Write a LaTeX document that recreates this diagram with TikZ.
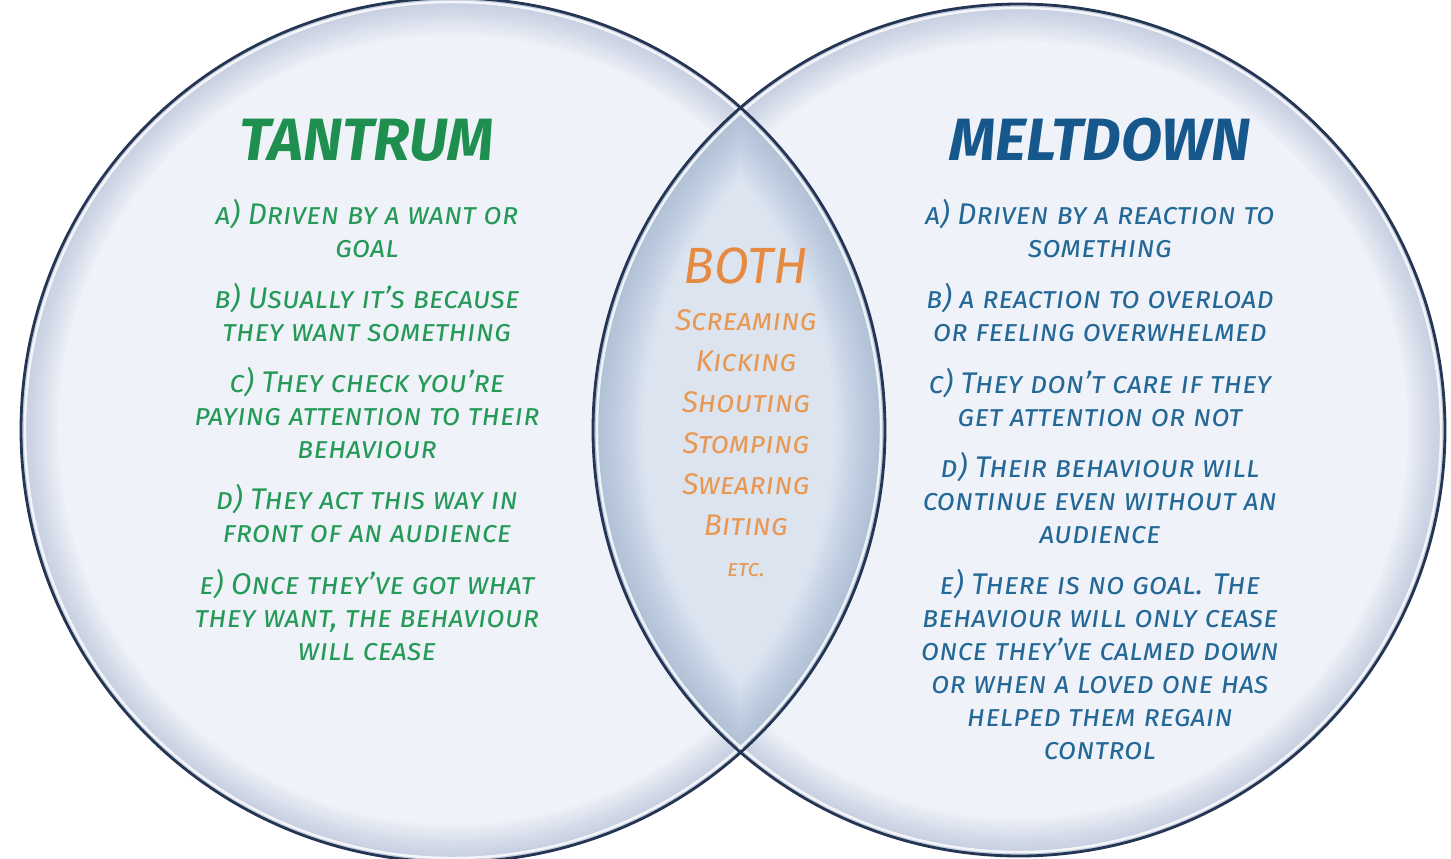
\documentclass[tikz,border=0pt]{standalone}
\usepackage{fontspec}
\setmainfont{Fira Sans}
\usetikzlibrary{positioning}

\definecolor{tgreen}{HTML}{1F8F50}
\definecolor{tgreenlt}{HTML}{259A58}
\definecolor{mblue}{HTML}{17588C}
\definecolor{mbluelt}{HTML}{236896}
\definecolor{borange}{HTML}{E58A40}
\definecolor{borangelt}{HTML}{E89852}
\definecolor{bubble}{HTML}{EFF2F8}
\definecolor{lensfill}{HTML}{DCE4F0}
\definecolor{rim}{HTML}{7F98BE}
\definecolor{ring}{HTML}{243654}

\tikzset{
  heading/.style={inner sep=0pt, font=\fontsize{34}{34}\selectfont\bfseries\itshape},
  point/.style={inner sep=0pt, align=center,
    font=\fontsize{17}{18.8}\selectfont\itshape\scshape},
  both/.style={inner sep=0pt, align=center, text=borangelt,
    font=\fontsize{17}{23.3}\selectfont\itshape\scshape},
}

\begin{document}
\begin{tikzpicture}[x=0.02cm, y=-0.02cm, node distance=0.5cm]
\useasboundingbox[fill=white] (0,0) rectangle (1451,859);

\coordinate (L) at (453,430);
\coordinate (R) at (1019,430);

% the two bubbles, soft rim inside each
\fill[bubble] (L) circle (432) (R) circle (426);
\begin{scope}
  \clip (L) circle (432);
  \foreach \i in {1,...,12}
    \draw[rim, line width=3.5*\i pt, opacity=.035] (L) circle (432);
\end{scope}
\begin{scope}
  \clip (R) circle (426);
  \foreach \i in {1,...,12}
    \draw[rim, line width=3.5*\i pt, opacity=.035] (R) circle (426);
\end{scope}

% overlap
\begin{scope}
  \clip (L) circle (432);
  \fill[lensfill] (R) circle (426);
  \clip (R) circle (426);
  \foreach \i in {1,...,14}
    \draw[rim, line width=4*\i pt, opacity=.04] (L) circle (432) (R) circle (426);
\end{scope}

% outlines
\draw[white, line width=1.4pt, opacity=.8] (L) circle (428) (R) circle (422);
\draw[ring, line width=1.6pt] (L) circle (432) (R) circle (426);

% tantrum
\node[heading, text=tgreen] (tt) at (367,140) {TANTRUM};
\node[point, text=tgreenlt, below=0.74cm of tt] (ta) {a) Driven by a want or\\goal};
\node[point, text=tgreenlt, below=of ta] (tb) {b) Usually it's because\\they want something};
\node[point, text=tgreenlt, below=of tb] (tc) {c) They check you're\\paying attention to their\\behaviour};
\node[point, text=tgreenlt, below=of tc] (td) {d) They act this way in\\front of an audience};
\node[point, text=tgreenlt, below=of td] (te) {e) Once they've got what\\they want, the behaviour\\will cease};

% meltdown
\node[heading, text=mblue] (mt) at (1100,140) {MELTDOWN};
\node[point, text=mbluelt, below=0.74cm of mt] (ma) {a) Driven by a reaction to\\something};
\node[point, text=mbluelt, below=of ma] (mb) {b) a reaction to overload\\or feeling overwhelmed};
\node[point, text=mbluelt, below=of mb] (mc) {c) They don't care if they\\get attention or not};
\node[point, text=mbluelt, below=of mc] (md) {d) Their behaviour will\\continue even without an\\audience};
\node[point, text=mbluelt, below=of md] (me) {e) There is no goal. The\\behaviour will only cease\\once they've calmed down\\or when a loved one has\\helped them regain\\control};

% both
\node[heading, text=borange, font=\fontsize{29}{29}\selectfont\itshape] (bt) at (746,266) {BOTH};
\node[both, below=0.5cm of bt] (bl) {Screaming\\Kicking\\Shouting\\Stomping\\Swearing\\Biting\\{\fontsize{13}{13}\selectfont etc.}};
\end{tikzpicture}
\end{document}
